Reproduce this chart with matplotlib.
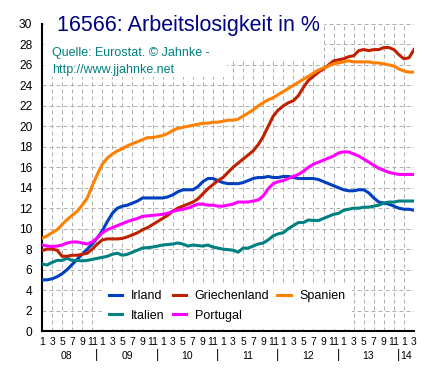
import numpy as np
import matplotlib
matplotlib.use('Agg')
import matplotlib.pyplot as plt
from matplotlib.patches import Rectangle
from matplotlib.transforms import blended_transform_factory

plt.rcParams['font.family'] = ['Liberation Sans', 'DejaVu Sans']

# monthly values, Jan 2008 .. Mar 2014
irland = [5.0, 5.0, 5.1, 5.3, 5.6, 6.0, 6.5, 7.0, 7.5, 8.0, 8.5, 9.1,
          9.8, 10.7, 11.5, 12.0, 12.2, 12.3, 12.5, 12.7, 13.0, 13.0, 13.0, 13.0,
          13.0, 13.1, 13.3, 13.6, 13.8, 13.8, 13.8, 14.1, 14.6, 14.9, 14.9, 14.7,
          14.5, 14.4, 14.4, 14.4, 14.5, 14.7, 14.9, 15.0, 15.0, 15.1, 15.0, 15.0,
          15.1, 15.1, 15.0, 14.9, 14.9, 14.9, 14.9, 14.8, 14.6, 14.4, 14.2, 14.0,
          13.8, 13.7, 13.7, 13.8, 13.8, 13.5, 13.0, 12.6, 12.5, 12.4, 12.2, 12.0,
          11.9, 11.9, 11.8]
griechenland = [7.85, 8.0, 8.0, 7.9, 7.3, 7.3, 7.4, 7.4, 7.5, 7.6, 8.0, 8.5,
                8.9, 9.0, 9.0, 9.0, 9.05, 9.2, 9.4, 9.6, 9.9, 10.1, 10.4, 10.7,
                11.0, 11.3, 11.7, 12.0, 12.2, 12.4, 12.6, 12.9, 13.4, 13.9, 14.3, 14.7,
                15.0, 15.5, 16.0, 16.4, 16.8, 17.2, 17.6, 18.2, 19.0, 20.0, 21.0, 21.6,
                22.0, 22.3, 22.5, 23.0, 23.8, 24.5, 24.9, 25.3, 25.6, 26.0, 26.4, 26.5,
                26.6, 26.8, 26.9, 27.4, 27.5, 27.4, 27.5, 27.5, 27.7, 27.7, 27.5, 27.0,
                26.6, 26.7, 27.5]
spanien = [9.06, 9.3, 9.6, 9.9, 10.4, 10.9, 11.3, 11.7, 12.3, 13.0, 14.2, 15.3,
           16.3, 16.9, 17.3, 17.6, 17.8, 18.1, 18.3, 18.5, 18.7, 18.9, 18.9, 19.0,
           19.1, 19.3, 19.6, 19.8, 19.9, 20.0, 20.1, 20.2, 20.3, 20.3, 20.4, 20.4,
           20.5, 20.6, 20.6, 20.7, 21.0, 21.3, 21.6, 22.0, 22.3, 22.6, 22.8, 23.1,
           23.4, 23.7, 24.0, 24.3, 24.6, 24.9, 25.2, 25.5, 25.7, 25.9, 26.1, 26.2,
           26.3, 26.4, 26.3, 26.3, 26.3, 26.3, 26.2, 26.2, 26.1, 26.0, 25.9, 25.6,
           25.4, 25.3, 25.3]
italien = [6.55, 6.45, 6.7, 6.9, 6.9, 7.1, 6.9, 6.9, 6.85, 6.9, 7.0, 7.1,
           7.2, 7.3, 7.5, 7.6, 7.4, 7.5, 7.7, 7.9, 8.1, 8.15, 8.2, 8.3,
           8.4, 8.45, 8.5, 8.6, 8.5, 8.3, 8.4, 8.35, 8.3, 8.4, 8.2, 8.1,
           8.0, 7.95, 7.9, 7.7, 8.1, 8.1, 8.3, 8.5, 8.6, 8.9, 9.3, 9.5,
           9.6, 10.0, 10.3, 10.6, 10.6, 10.85, 10.8, 10.8, 11.0, 11.2, 11.4, 11.5,
           11.8, 11.9, 12.0, 12.0, 12.1, 12.1, 12.2, 12.3, 12.5, 12.6, 12.6, 12.7,
           12.7, 12.7, 12.7]
portugal = [8.4, 8.3, 8.25, 8.3, 8.4, 8.6, 8.7, 8.7, 8.6, 8.5, 8.7, 9.1,
            9.6, 9.9, 10.1, 10.3, 10.5, 10.7, 10.85, 11.0, 11.2, 11.25, 11.3, 11.35,
            11.4, 11.5, 11.7, 11.8, 11.9, 12.0, 12.2, 12.4, 12.4, 12.3, 12.3, 12.2,
            12.2, 12.3, 12.4, 12.6, 12.6, 12.6, 12.7, 12.8, 13.2, 13.9, 14.4, 14.6,
            14.7, 14.9, 15.1, 15.3, 15.6, 16.0, 16.3, 16.5, 16.7, 16.9, 17.1, 17.4,
            17.5, 17.5, 17.3, 17.1, 16.8, 16.5, 16.2, 15.9, 15.7, 15.5, 15.4, 15.3,
            15.3, 15.3, 15.3]

years = ['08', '09', '10', '11', '12', '13', '14']

series = [
    ('Irland', irland, '#0040c0'),
    ('Italien', italien, '#008080'),
    ('Griechenland', griechenland, '#c02000'),
    ('Portugal', portugal, '#ff00ff'),
    ('Spanien', spanien, '#ff8000'),
]

W, H = 444, 374
fig = plt.figure(figsize=(W / 100, H / 100), dpi=100)
ax = fig.add_axes([42 / W, (H - 331) / H, 372 / W, 307 / H])

n = len(irland)
x = np.arange(n)
for name, vals, col in series:
    ax.plot(x, vals, color=col, lw=2.2, label=name, zorder=3)

ax.set_xlim(0, n - 1)
ax.set_ylim(0, 30)
ax.set_yticks(range(0, 31, 2))
ax.set_xticks(range(0, n, 2))
ax.set_xticklabels([str(i % 12 + 1) for i in range(0, n, 2)])
ax.tick_params(axis='y', length=0, pad=7, labelsize=8.6)
ax.tick_params(axis='x', length=0, pad=4, labelsize=7.5)

ax.set_axisbelow(True)
ax.grid(True, color='#b0b0b0', lw=0.72, linestyle=(0, (4, 3)))
for s in ['top', 'right']:
    ax.spines[s].set_visible(False)
for s in ['left', 'bottom']:
    ax.spines[s].set_linewidth(1.5)

# white boxes behind title and source
ax.add_patch(Rectangle((0.005, 0.883), 0.753, 0.12, transform=ax.transAxes,
                       facecolor='white', edgecolor='none', zorder=1, clip_on=False))
ax.add_patch(Rectangle((0.005, 0.827), 0.492, 0.18, transform=ax.transAxes,
                       facecolor='white', edgecolor='none', zorder=1, clip_on=False))

fig.text(57 / W, 1 - 31 / H, '16566: Arbeitslosigkeit in %', color='#000080',
         fontsize=15.5, va='baseline', ha='left')
fig.text(52 / W, 1 - 56 / H, 'Quelle: Eurostat. \u00a9 Jahnke -', color='#008080',
         fontsize=9, va='baseline', ha='left')
fig.text(52 / W, 1 - 73 / H, 'http://www.jjahnke.net', color='#008080',
         fontsize=9, va='baseline', ha='left')

# year labels under the month ticks
tr = blended_transform_factory(ax.transData, fig.transFigure)
for k, yr in enumerate(years):
    if k < len(years) - 1:
        ax.text(4.9 + 12 * k, 1 - 356 / H, yr, transform=tr, ha='center',
                va='center', fontsize=7.5)
    else:
        ax.text(10.9 + 12 * (k - 1) + 0.4, 1 - 356 / H, yr, transform=tr,
                ha='left', va='center', fontsize=7.5)
    if k > 0:
        ax.text(10.9 + 12 * (k - 1), 1 - 355 / H, '|', transform=tr,
                ha='center', va='center', fontsize=9)

leg = ax.legend(ncol=3, loc='upper left', bbox_to_anchor=(0.162, 0.155),
                fontsize=9, frameon=True, framealpha=1, edgecolor='none',
                fancybox=False, handlelength=1.05, handletextpad=0.7,
                columnspacing=0.65, labelspacing=0.6, borderpad=0.55,
                borderaxespad=0)
leg.set_zorder(4)

fig.savefig('out.png', dpi=100)
